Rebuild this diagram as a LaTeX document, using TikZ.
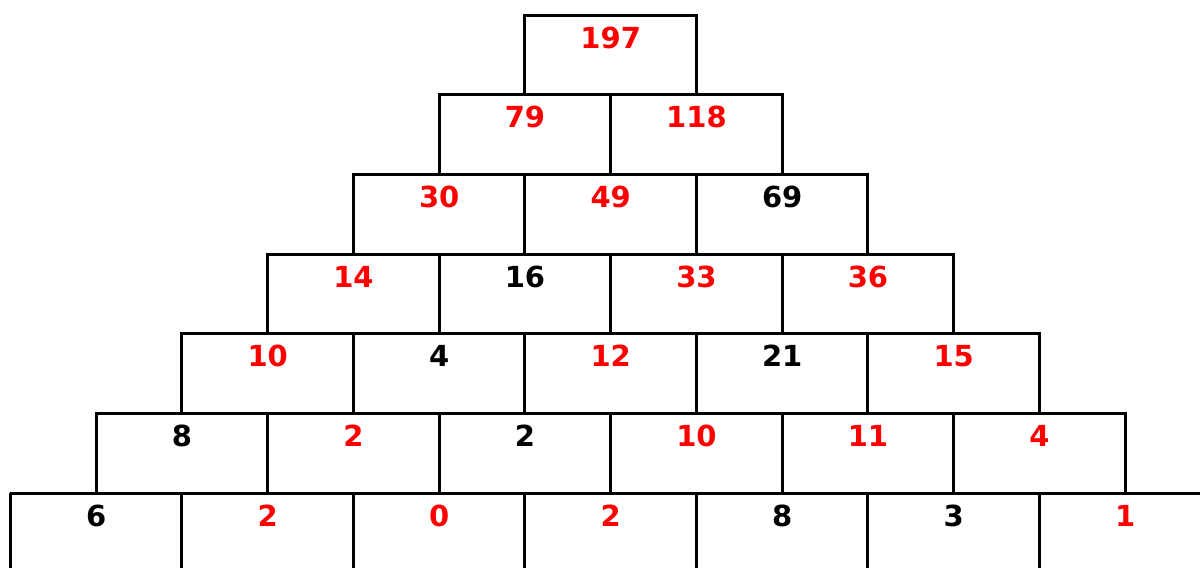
\documentclass[tikz,border=0pt]{standalone}
\usepackage{fontspec}
\setmainfont{DejaVu Sans}
\begin{document}
\begin{tikzpicture}[x=1pt, y=-1pt, line width=3pt,
    cell/.style={font=\fontsize{29}{34}\selectfont\bfseries, anchor=base, inner sep=0pt},
    given/.style={cell, black},
    found/.style={cell, red}]
    \useasboundingbox (0,0) rectangle (1200,568);
    \def\bw{171.5}
    \def\rh{79.7}

    % Rows of boxes (row r has r boxes)
    \foreach \r in {1,...,6} {
      \draw ({610.7-\r*\bw/2},{15+\r*\rh}) -- ++(0,-\rh) -- ++({\r*\bw},0) -- ++(0,\rh);
      \foreach \k in {0,...,\r}
        \draw ({610.7-\r*\bw/2+\k*\bw},{15+(\r-1)*\rh}) -- ++(0,\rh);
    }

    % Bottom row, cut off by the page
    \draw (10,{15+6*\rh}) -- (1200,{15+6*\rh});
    \foreach \k in {0,...,6}
      \draw ({10+\k*\bw},{15+6*\rh}) -- ({10+\k*\bw},568);

    % Numbers
    \foreach \v/\s [count=\k] in {197/found}
      \node[\s] (r1c\k) at ({610.7+(\k-1)*\bw},{48}) {\v};
    \foreach \v/\s [count=\k] in {79/found, 118/found}
      \node[\s] (r2c\k) at ({610.7+(\k-1.5)*\bw},{48+\rh}) {\v};
    \foreach \v/\s [count=\k] in {30/found, 49/found, 69/given}
      \node[\s] (r3c\k) at ({610.7+(\k-2)*\bw},{48+2*\rh}) {\v};
    \foreach \v/\s [count=\k] in {14/found, 16/given, 33/found, 36/found}
      \node[\s] (r4c\k) at ({610.7+(\k-2.5)*\bw},{48+3*\rh}) {\v};
    \foreach \v/\s [count=\k] in {10/found, 4/given, 12/found, 21/given, 15/found}
      \node[\s] (r5c\k) at ({610.7+(\k-3)*\bw},{48+4*\rh}) {\v};
    \foreach \v/\s [count=\k] in {8/given, 2/found, 2/given, 10/found, 11/found, 4/found}
      \node[\s] (r6c\k) at ({610.7+(\k-3.5)*\bw},{48+5*\rh}) {\v};
    \foreach \v/\s [count=\k] in {6/given, 2/found, 0/found, 2/found, 8/given, 3/given, 1/found}
      \node[\s] (r7c\k) at ({610.7+(\k-4)*\bw},{48+6*\rh}) {\v};
  \end{tikzpicture}
\end{document}
